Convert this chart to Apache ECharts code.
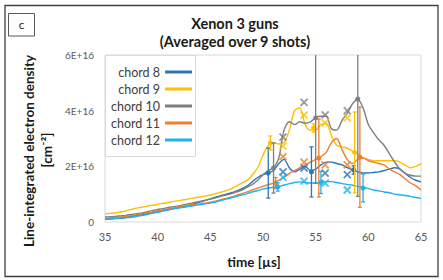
<!DOCTYPE html>
<html><head><meta charset="utf-8">
<script src="https://cdn.jsdelivr.net/npm/echarts@6/dist/echarts.min.js"></script>
<style>html,body{margin:0;padding:0;background:#fff}#c{width:443px;height:280px}</style>
</head><body><div id="c"></div>
<script>
// time axis (µs)
const times = [35,35.5,36,36.5,37,37.5,38,38.5,39,39.5,40,40.5,41,41.5,42,42.5,43,43.5,44,44.5,45,45.5,46,46.5,47,47.5,48,48.5,49,49.5,50,50.5,51,51.5,52,52.5,53,53.5,54,54.5,55,55.5,56,56.5,57,57.5,58,58.5,59,59.5,60,60.5,61,61.5,62,62.5,63,63.5,64,64.5,65];
// line-integrated density in units of 1E+16 cm^-2
const chord8  = [0.10,0.11,0.13,0.15,0.17,0.20,0.23,0.26,0.30,0.34,0.38,0.41,0.45,0.48,0.52,0.56,0.60,0.66,0.72,0.77,0.83,0.89,0.95,1.00,1.05,1.12,1.20,1.30,1.45,1.60,1.70,1.76,1.85,2.10,2.25,1.95,1.80,1.90,2.00,1.85,1.90,2.05,2.15,2.15,2.10,2.05,1.95,1.87,1.80,1.76,1.76,1.78,1.80,1.85,1.90,1.95,1.90,1.75,1.60,1.50,1.44];
const chord9  = [0.29,0.31,0.33,0.36,0.40,0.45,0.50,0.53,0.57,0.60,0.63,0.67,0.70,0.74,0.77,0.80,0.83,0.87,0.90,0.93,0.97,1.02,1.07,1.13,1.20,1.30,1.40,1.50,1.70,1.95,2.40,2.75,2.85,2.80,2.85,3.30,4.00,4.10,3.50,3.30,3.30,3.50,3.55,3.10,2.75,2.70,2.65,2.55,2.45,2.30,2.25,2.20,2.20,2.20,2.20,2.20,2.15,2.05,1.95,2.00,2.10];
const chord10 = [0.18,0.19,0.20,0.22,0.24,0.27,0.30,0.33,0.37,0.41,0.45,0.48,0.52,0.55,0.58,0.62,0.66,0.70,0.74,0.78,0.82,0.87,0.92,0.97,1.02,1.08,1.15,1.25,1.35,1.50,1.70,1.85,1.95,2.30,3.30,3.60,3.50,3.60,3.55,3.60,3.75,3.80,3.80,3.35,3.30,3.65,3.90,4.25,4.40,4.10,3.50,3.20,2.95,2.75,2.45,2.15,1.90,1.75,1.68,1.65,1.65];
const chord11 = [0.14,0.15,0.16,0.18,0.20,0.23,0.26,0.29,0.33,0.36,0.40,0.43,0.47,0.50,0.54,0.57,0.60,0.62,0.65,0.68,0.71,0.75,0.80,0.85,0.90,0.96,1.02,1.08,1.15,1.22,1.28,1.34,1.40,1.50,1.60,1.75,1.85,1.95,2.05,2.15,2.25,2.35,2.50,2.85,3.00,2.60,2.25,2.10,2.25,2.30,2.20,2.15,2.10,2.05,1.90,1.80,1.70,1.55,1.40,1.30,1.15];
const chord12 = [0.10,0.11,0.12,0.13,0.15,0.17,0.20,0.23,0.27,0.31,0.35,0.39,0.43,0.47,0.50,0.53,0.56,0.59,0.62,0.65,0.68,0.72,0.77,0.82,0.87,0.92,0.97,1.02,1.08,1.13,1.18,1.22,1.25,1.27,1.33,1.38,1.42,1.44,1.42,1.40,1.40,1.42,1.45,1.45,1.42,1.38,1.35,1.32,1.28,1.25,1.20,1.15,1.12,1.08,1.05,1.00,0.98,0.95,0.92,0.88,0.85];

// cross markers
const crossTimes = [51.9, 53.9, 55.9, 58.0];
const cross8  = [1.80, 1.94, 1.76, 1.70];
const cross9  = [2.73, 3.84, 3.56, 3.74];
const cross10 = [3.05, 4.30, 3.85, 4.00];
const cross11 = [2.35, 2.15, 2.05, 2.05];
const cross12 = [1.60, 1.47, 1.40, 1.15];

// averaged points with error bars: [time, value, error]
const err8  = [[50.5,1.76,0.90],[54.6,1.80,0.90],[58.6,1.87,0.15]];
const err9  = [[50.7,2.84,0.25],[54.8,3.38,0.15],[58.7,2.50,1.45]];
const err10 = [[51.0,1.94,0.90],[55.0,3.74,2.35],[59.0,4.42,3.50]];
const err11 = [[51.2,1.40,0.20],[55.3,2.30,1.40],[59.2,2.33,1.80]];
const err12 = [[51.4,1.26,0.15],[55.5,1.42,0.40],[59.5,1.22,0.50]];

// tick labels
const yTickLabels = {0:'0', 2:'2E+16', 4:'4E+16', 6:'6E+16'};

const names = ['chord 8','chord 9','chord 10','chord 11','chord 12'];
const colors = ['#2E75B6','#FFC000','#7F7F7F','#ED7D31','#1FB1EE'];
const lines = [chord8, chord9, chord10, chord11, chord12];
const crosses = [cross8, cross9, cross10, cross11, cross12];
const errs = [err8, err9, err10, err11, err12];

function errRender(color){
  return function(params, api){
    const t = api.value(0), c = api.value(1), e = api.value(2);
    const cs = params.coordSys;
    const top = cs.y, bot = cs.y + cs.height;
    const pc = api.coord([t, c]);
    const pHi = api.coord([t, c + e]);
    const pLo = api.coord([t, c - e]);
    const yHi = Math.max(pHi[1], top), yLo = Math.min(pLo[1], bot);
    const ch = [{type:'line', shape:{x1:pc[0], y1:yHi, x2:pc[0], y2:yLo}, style:{stroke:color, lineWidth:1.3}}];
    if (pHi[1] >= top) ch.push({type:'line', shape:{x1:pc[0]-2, y1:pHi[1], x2:pc[0]+2, y2:pHi[1]}, style:{stroke:color, lineWidth:1.3}});
    if (pLo[1] <= bot) ch.push({type:'line', shape:{x1:pc[0]-2, y1:pLo[1], x2:pc[0]+2, y2:pLo[1]}, style:{stroke:color, lineWidth:1.3}});
    ch.push({type:'circle', shape:{cx:pc[0], cy:pc[1], r:2.5}, style:{fill:color}});
    return {type:'group', children:ch};
  };
}

const series = [];
lines.forEach((arr, i) => {
  series.push({
    name: names[i], type:'line', smooth:0.3, showSymbol:false,
    data: times.map((t, k) => [t, arr[k]]),
    lineStyle:{color:colors[i], width:1.4}, itemStyle:{color:colors[i]},
    z: 2
  });
});
crosses.forEach((arr, i) => {
  series.push({
    name: names[i] + ' ×', type:'scatter',
    symbol:'path://M0,0L10,10M10,0L0,10', symbolSize:7,
    data: crossTimes.map((t, k) => [t, arr[k]]),
    itemStyle:{color:'none', borderColor:colors[i], borderWidth:1.8},
    z: 3
  });
});
errs.forEach((arr, i) => {
  series.push({
    name: names[i] + ' avg', type:'custom',
    renderItem: errRender(colors[i]),
    data: arr, z: 3
  });
});

const chart = echarts.init(document.getElementById('c'), null, {renderer:'svg'});
chart.setOption({
  animation:false,
  backgroundColor:'#fff',
  title:{
    text:'Xenon 3 guns\n(Averaged over 9 shots)',
    left:230, top:9, textAlign:'center',
    textStyle:{fontFamily:'Lato', fontWeight:'bold', fontSize:14.5, color:'#1a1a1a', lineHeight:18}
  },
  grid:{left:105, right:22, top:55, bottom:58, show:true, borderColor:'#D9D9D9', borderWidth:1, containLabel:false},
  xAxis:{
    type:'value', min:35, max:65, interval:5,
    axisLine:{show:false}, axisTick:{show:false}, splitLine:{show:false},
    axisLabel:{fontFamily:'Lato', fontSize:11, color:'#595959', margin:9},
    name:'time [µs]', nameLocation:'middle', nameGap:33,
    nameTextStyle:{fontFamily:'Lato', fontWeight:'bold', fontSize:13.5, color:'#1a1a1a', padding:[0,18,0,0]}
  },
  yAxis:{
    type:'value', min:0, max:6, interval:2,
    axisLine:{show:false}, axisTick:{show:false}, splitLine:{show:false},
    axisLabel:{fontFamily:'Lato', fontSize:10, color:'#595959', margin:11,
      formatter: v => yTickLabels[v] !== undefined ? yTickLabels[v] : ''}
  },
  legend:{
    data:names, orient:'vertical', left:106, top:60, align:'right',
    icon:'rect', itemWidth:27, itemHeight:3, itemGap:3,
    textStyle:{fontFamily:'Lato', fontSize:12.5, color:'#404040', lineHeight:14, width:48, align:'right'},
    z:6
  },
  graphic:[
    {type:'rect', shape:{x:5, y:5.5, width:433, height:271}, style:{fill:'none', stroke:'#404040', lineWidth:1.3}, z:0, silent:true},
    {type:'rect', shape:{x:8.5, y:13.5, width:26, height:22.5}, style:{fill:'#fff', stroke:'#595959', lineWidth:1}, z:1},
    {type:'text', x:21.5, y:24.5, style:{text:'c', font:'12px Lato', fill:'#262626', textAlign:'center', textVerticalAlign:'middle'}, z:2},
    {type:'rect', shape:{x:105.5, y:55.5, width:90, height:101}, style:{fill:'#fff', stroke:'#D9D9D9', lineWidth:1}, z:5},
    {type:'text', x:29, y:151, rotation:Math.PI/2, style:{text:'Line-integrated electron density', font:'bold 13.5px Lato', fill:'#1a1a1a', textAlign:'center', textVerticalAlign:'middle'}, z:2},
    {type:'text', x:47, y:150, rotation:Math.PI/2, style:{text:'[cm⁻²]', font:'bold 13.5px Lato', fill:'#1a1a1a', textAlign:'center', textVerticalAlign:'middle'}, z:2}
  ],
  series:series
});
</script></body></html>
